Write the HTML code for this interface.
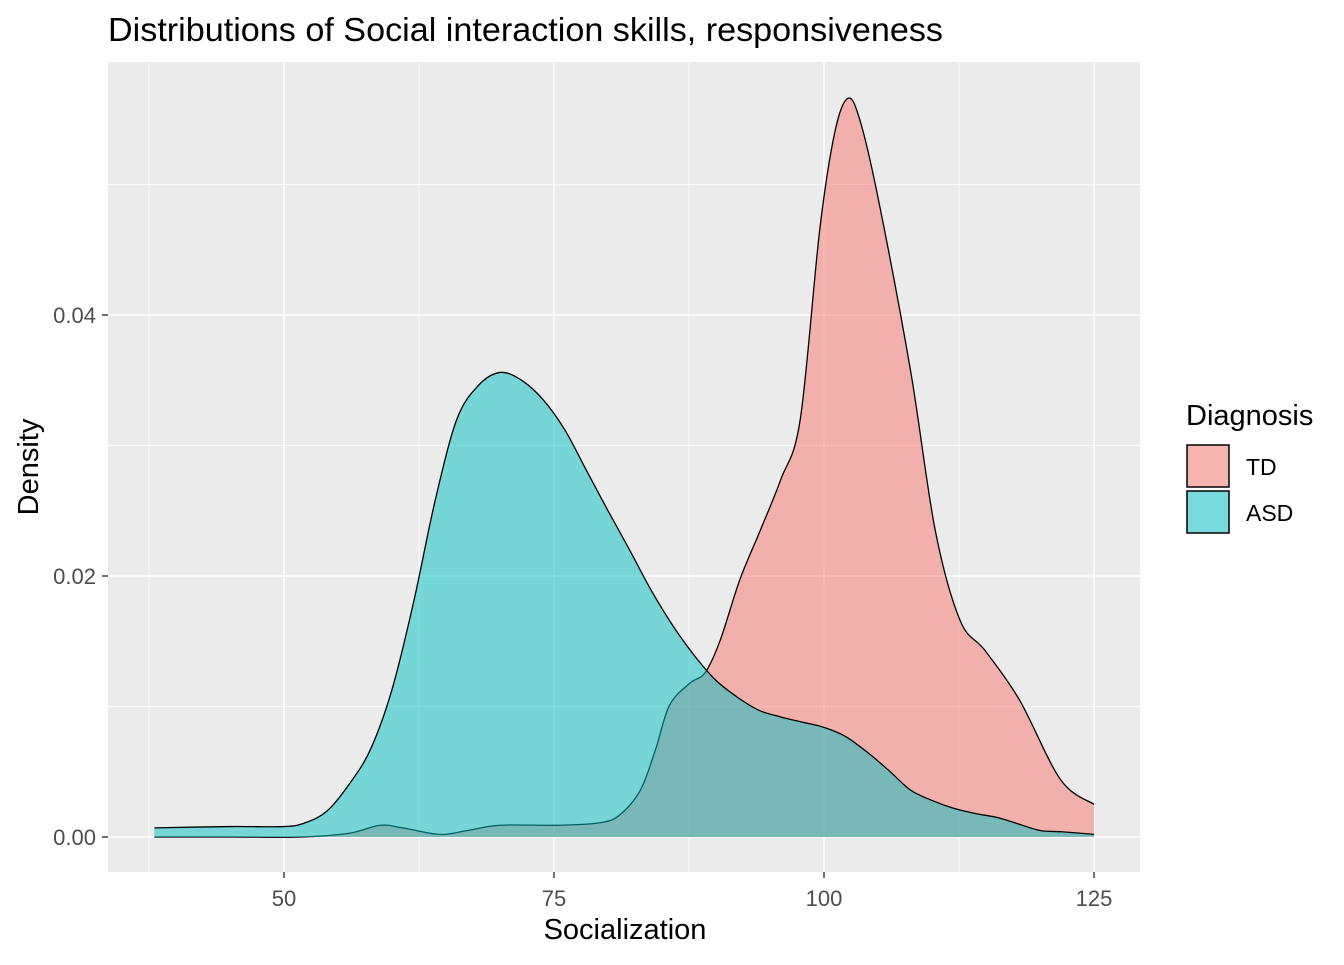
<!DOCTYPE html>
<html><head><meta charset="utf-8"><style>
body{margin:0;background:#fff;}
text{font-family:"Liberation Sans",Arial,sans-serif;}
</style></head><body>
<svg id="chart" width="1344" height="960" xmlns="http://www.w3.org/2000/svg">
<text x="108" y="41" font-size="33" textLength="835" lengthAdjust="spacingAndGlyphs" fill="#000">Distributions of Social interaction skills, responsiveness</text>
<rect x="108" y="62" width="1032" height="810" fill="#EBEBEB"/>
<g id="grid"></g>
<g id="marks"></g>
<g id="axes"></g>
<text x="625" y="939" font-size="29" text-anchor="middle">Socialization</text>
<text transform="translate(38,467) rotate(-90)" font-size="29" text-anchor="middle">Density</text>
<g>
<text x="1186" y="425" font-size="29">Diagnosis</text>
<rect x="1187" y="445" width="42" height="42" fill="#F2F2F2"/>
<rect x="1187" y="445" width="42" height="42" fill="#F8766D" fill-opacity="0.5" stroke="#000" stroke-width="1.5"/>
<text x="1246" y="475" font-size="23">TD</text>
<rect x="1187" y="491" width="42" height="42" fill="#F2F2F2"/>
<rect x="1187" y="491" width="42" height="42" fill="#00BFC4" fill-opacity="0.5" stroke="#000" stroke-width="1.5"/>
<text x="1246" y="521" font-size="23">ASD</text>
</g>
</svg>
<script>
const tdX=[38,45,51.5,56.1,58.9,61,64.4,67,70,75.6,79.3,81.1,83,84.4,85.7,87.6,89,90.4,92.2,94.1,96,97.8,99.6,101,102.2,103.3,105,108,110.3,112.6,114.9,118.1,121.9,125];
const tdY=[0,0,0,0.0003,0.0009,0.0007,0.0002,0.0005,0.0009,0.0009,0.0011,0.0017,0.0036,0.0067,0.0101,0.0118,0.0126,0.0151,0.0197,0.0235,0.0274,0.032,0.0465,0.054,0.0566,0.055,0.049,0.0358,0.0235,0.0166,0.0143,0.0105,0.0044,0.0025];
const asdX=[38,45,50,52,54,56,58,60,62,64,66,68,70,72,74,76,78,80,82,84,86,88,90,92,94,96,98,100,102,104,106,108,110,112,114,116,118,120,122,125];
const asdY=[0.0007,0.0008,0.0008,0.0011,0.002,0.004,0.0067,0.0113,0.018,0.0258,0.032,0.0346,0.0356,0.035,0.0335,0.0312,0.0281,0.025,0.022,0.0189,0.0162,0.0139,0.012,0.0107,0.0097,0.0092,0.0088,0.0084,0.0077,0.0065,0.0051,0.0036,0.0028,0.0022,0.0018,0.0015,0.001,0.0005,0.0004,0.0002];
const xTicks=[50,75,100,125];
const xMinor=[37.5,62.5,87.5,112.5];
const yTicks=[0,0.02,0.04];
const yTickLabels=["0.00","0.02","0.04"];
const yMinor=[0.01,0.03,0.05];
const NS="http://www.w3.org/2000/svg";
const sx=v=>284+(v-50)*10.8;
const sy=v=>837-v*13050;
function mk(tag,attrs,parent){const e=document.createElementNS(NS,tag);for(const k in attrs)e.setAttribute(k,attrs[k]);parent.appendChild(e);return e;}
const grid=document.getElementById('grid'),axes=document.getElementById('axes'),marks=document.getElementById('marks');
xMinor.forEach(v=>{const l=mk('line',{x1:sx(v),x2:sx(v),y1:62,y2:872,stroke:'#fff','stroke-width':0.7},grid);

});
yMinor.forEach(v=>{const l=mk('line',{x1:108,x2:1140,y1:sy(v),y2:sy(v),stroke:'#fff','stroke-width':0.7},grid);

});
xTicks.forEach(v=>{const l=mk('line',{x1:sx(v),x2:sx(v),y1:62,y2:872,stroke:'#fff','stroke-width':1.4},grid);


const t=mk('line',{x1:sx(v),x2:sx(v),y1:872,y2:878,stroke:'#333','stroke-width':1.4},axes);


const tx=mk('text',{x:sx(v),y:906,'font-size':22,'text-anchor':'middle',fill:'#4D4D4D'},axes);tx.textContent=v;

});
yTicks.forEach((v,i)=>{const l=mk('line',{x1:108,x2:1140,y1:sy(v),y2:sy(v),stroke:'#fff','stroke-width':1.4},grid);


const t=mk('line',{x1:102,x2:108,y1:sy(v),y2:sy(v),stroke:'#333','stroke-width':1.4},axes);


const tx=mk('text',{x:96,y:sy(v)+8,'font-size':22,'text-anchor':'end',fill:'#4D4D4D'},axes);tx.textContent=yTickLabels[i];

});
function curve(xs,ys){const p=xs.map((x,i)=>[sx(x),sy(ys[i])]);let d='M'+p[0][0]+','+p[0][1];
for(let i=0;i<p.length-1;i++){const p0=p[Math.max(0,i-1)],p1=p[i],p2=p[i+1],p3=p[Math.min(p.length-1,i+2)];
const c1=[p1[0]+(p2[0]-p0[0])/6,p1[1]+(p2[1]-p0[1])/6],c2=[p2[0]-(p3[0]-p1[0])/6,p2[1]-(p3[1]-p1[1])/6];
d+=' C'+c1+' '+c2+' '+p2;}return d;}
function area(xs,ys,col,name){const c=curve(xs,ys);
const f=mk('path',{d:c+' L'+sx(xs[xs.length-1])+','+sy(0)+' L'+sx(xs[0])+','+sy(0)+'Z',fill:col,'fill-opacity':0.5},marks);


const s=mk('path',{d:c,fill:'none',stroke:'#000','stroke-width':1.3},marks);

}
area(tdX,tdY,'#F8766D','td-density');
area(asdX,asdY,'#00BFC4','asd-density');
</script>
</body></html>
